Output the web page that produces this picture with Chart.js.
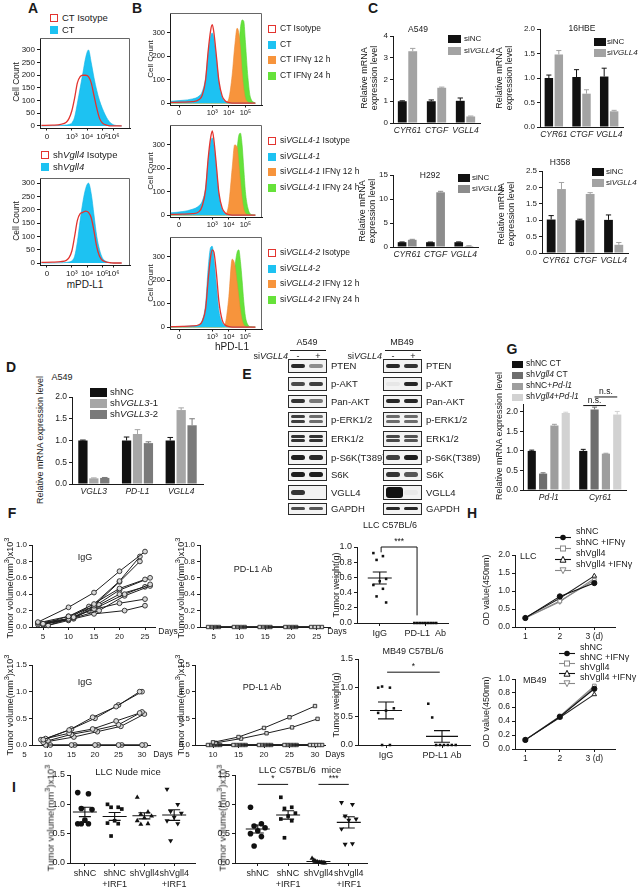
<!DOCTYPE html>
<html>
<head>
<meta charset="utf-8">
<title>VGLL4 / PD-L1 figure</title>
<script src="https://cdn.jsdelivr.net/npm/chart.js@4.4.1/dist/chart.umd.min.js"></script>
<style>
  body { margin: 0; background: #fff; }
  #fig { position: relative; width: 641px; height: 887px; overflow: hidden;
         font-family: 'Liberation Sans', Arial, sans-serif; color: #1a1a1a; }
  #fig canvas { position: absolute; }
  .tx { position: absolute; white-space: nowrap; line-height: 1.1; text-align: center; }
  .sw { position: absolute; box-sizing: border-box; }
  .blot { position: absolute; box-sizing: border-box; border: 1.5px solid #2a2a2a; background: #f3f3f3; overflow: hidden; }
  .band { position: absolute; border-radius: 3px; filter: blur(0.7px); }
</style>
</head>
<body>
<div id="fig"></div>
<script>
// ---------------- data ----------------

// A: flow histograms, x = position on the biexponential display axis
const binsA    = [0.8,1.6,2.2,2.6,2.8,3.0,3.2,3.4,3.6,3.8,4.0,4.2,4.4,4.6,4.8,5.0,5.2,5.4,5.6,5.8,6.0,6.2,6.6];
const ctA      = [0,1,2,4,6,12,35,90,150,210,270,300,250,190,140,100,70,45,25,12,5,2,0];
const ctIsoA   = [2,3,6,15,30,60,110,170,195,200,200,195,170,120,70,30,12,5,2,0,0,0,0];
const shA      = [0,0,1,2,4,8,25,80,160,230,280,300,260,180,100,50,20,8,3,1,0,0,0];
const shIsoA   = [2,3,5,10,20,45,100,160,185,190,195,190,170,120,60,25,10,5,2,1,0,0,0];
const tickPosA = [1.2, 3.0, 4.1, 5.2, 6.0];
const tickLabA = ['0', '10³', '10⁴', '10⁵', '10⁶'];
const cellTicksA = [0, 50, 100, 150, 200, 250, 300];

// B: flow histograms
const binsB = [0.5,1.2,1.8,2.2,2.4,2.6,2.75,2.9,3.0,3.1,3.25,3.4,3.6,3.8,4.0,4.2,4.35,4.5,4.6,4.7,4.8,4.9,5.0,5.15,5.3,5.6];
const ctB1  = [8,12,18,30,50,110,210,285,300,275,190,90,25,5,0,0,0,0,0,0,0,0,0,0,0,0];
const isoB1 = [3,4,6,15,35,100,220,310,335,300,200,95,30,8,2,0,0,0,0,0,0,0,0,0,0,0];
const h12B1 = [0,0,0,0,0,0,0,0,0,0,0,0,0,2,20,120,240,320,300,230,130,60,20,5,0,0];
const h24B1 = [0,0,0,0,0,0,0,0,0,0,0,0,0,0,3,20,60,150,240,320,355,350,260,110,25,0];
const ctB2  = [10,15,25,40,60,120,230,310,330,300,200,90,25,5,0,0,0,0,0,0,0,0,0,0,0,0];
const isoB2 = [3,4,6,15,40,110,240,330,360,320,210,95,30,8,2,0,0,0,0,0,0,0,0,0,0,0];
const h12B2 = [0,0,0,0,0,0,0,0,0,0,0,0,0,3,50,200,300,290,220,140,70,25,8,2,0,0];
const h24B2 = [0,0,0,0,0,0,0,0,0,0,0,0,0,0,10,60,150,280,340,350,300,200,100,30,5,0];
const ctB3  = [2,3,5,10,30,100,250,340,345,290,180,70,20,4,0,0,0,0,0,0,0,0,0,0,0,0];
const isoB3 = [2,3,5,10,25,80,200,300,330,320,230,110,30,8,2,0,0,0,0,0,0,0,0,0,0,0];
const h12B3 = [0,0,0,0,0,0,0,0,0,0,0,0,2,20,130,290,270,190,130,70,30,10,3,0,0,0];
const h24B3 = [0,0,0,0,0,0,0,0,0,0,0,0,0,5,40,150,250,320,330,280,200,110,45,10,2,0];
const tickPosB = [1.0, 3.0, 4.0, 5.0];
const tickLabB = ['0', '10³', '10⁴', '10⁵'];
const cellTicksB = [0, 100, 200, 300];

// C: qPCR, siNC vs siVGLL4
const cCats    = ['CYR61', 'CTGF', 'VGLL4'];
const a549Nc   = [1.0, 1.0, 1.02],  a549NcErr = [0.02, 0.06, 0.13];
const a549Si   = [3.3, 1.62, 0.3],  a549SiErr = [0.13, 0.03, 0.02];
const hbeNc    = [1.0, 1.02, 1.03], hbeNcErr  = [0.06, 0.15, 0.17];
const hbeSi    = [1.48, 0.68, 0.32], hbeSiErr = [0.08, 0.08, 0.02];
const h292Nc   = [1.0, 1.0, 1.0],   h292NcErr = [0.05, 0.03, 0.06];
const h292Si   = [1.5, 11.4, 0.2],  h292SiErr = [0.1, 0.2, 0.05];
const h358Nc   = [1.02, 1.0, 1.01], h358NcErr = [0.12, 0.03, 0.15];
const h358Si   = [1.95, 1.8, 0.25], h358SiErr = [0.2, 0.04, 0.07];

// D: shVGLL3
const dCats  = ['VGLL3', 'PD-L1', 'VGLL4'];
const dShNc  = [1.0, 1.0, 1.0],   dShNcErr = [0.01, 0.08, 0.07];
const dSh1   = [0.13, 1.15, 1.7], dSh1Err  = [0.01, 0.1, 0.05];
const dSh2   = [0.14, 0.94, 1.35], dSh2Err = [0.01, 0.03, 0.15];

// E: western blots (band intensity, lane - / +)
const blotRows   = ['PTEN', 'p-AKT', 'Pan-AKT', 'p-ERK1/2', 'ERK1/2', 'p-S6K(T389)', 'S6K', 'VGLL4', 'GAPDH'];
const blotA549   = [[0.9,0.45],[0.75,0.8],[0.85,0.55],[0.8,0.6],[0.85,0.85],[0.95,0.9],[0.95,0.95],[0.85,0.0],[0.75,0.7]];
const blotMB49   = [[0.9,0.85],[0.05,0.9],[0.9,0.9],[0.6,0.6],[0.75,0.7],[0.8,0.95],[0.85,0.7],[1.0,0.04],[0.9,0.9]];
const blotDouble = [false,false,false,true,true,false,false,false,false];

// G: qPCR in LLC
const gCats   = ['Pd-l1', 'Cyr61'];
const gShNcCt = [1.0, 1.0],   gShNcCtErr = [0.02, 0.04];
const gShVgCt = [0.42, 2.06], gShVgCtErr = [0.02, 0.06];
const gShNcPd = [1.65, 0.93], gShNcPdErr = [0.03, 0.01];
const gShVgPd = [1.97, 1.93], gShVgPdErr = [0.02, 0.08];

// F: tumour growth (days, volume x10^3 mm3) per mouse
const igTopDays = [[4,10,15,20,25],[5,10,15,20,24],[5,11,15,20,24],[4,10,14,20,25],[6,11,15,21,26],
                   [4,10,16,21,26],[5,11,16,20,25],[6,10,14,20,25],[5,11,15,21,25],[4,10,15,20,26]];
const igTopVol  = [[0.06,0.24,0.42,0.68,0.92],[0.04,0.13,0.28,0.56,0.86],[0.03,0.12,0.26,0.55,0.8],
                   [0.05,0.1,0.25,0.47,0.58],[0.02,0.12,0.22,0.4,0.52],[0.03,0.09,0.2,0.38,0.5],
                   [0.04,0.11,0.27,0.4,0.49],[0.02,0.08,0.2,0.29,0.34],[0.03,0.1,0.16,0.2,0.26],
                   [0.05,0.13,0.25,0.45,0.6]];
const pdTopDays = [[3.9,8.9,13.9,18.9,23.9],[4.6,9.6,14.6,19.6,24.6],[5.3,10.3,15.3,20.3,25.3],[6.0,11.0,16.0,21.0,26.0]];
const pdTopVol  = [[0,0,0,0,0],[0,0,0,0,0],[0,0,0,0,0],[0,0,0,0,0]];
const igBotDays = [[9,14.5,19.5,24.5,29.5],[9.5,15,20,25,30],[8.5,14.5,19.5,24.5,29.5],[10,15,20,25,30],
                   [9,15.5,20.5,25.5,30.5],[9.5,15,20,25,30],[10.5,15.7,20.7,25.7,30.7]];
const igBotVol  = [[0.1,0.28,0.52,0.72,1.0],[0.12,0.3,0.5,0.75,1.0],[0.1,0.22,0.3,0.45,0.6],
                   [0.08,0.2,0.28,0.38,0.62],[0.05,0.15,0.25,0.35,0.58],[0,0,0,0,0],[0,0,0,0,0]];
const pdBotDays = [[10,15,20,25,30],[10.5,15.5,20.5,25.5,30.5],[9,14,19,24,29],[9.6,14.6,19.6,24.6,29.6],
                   [10.2,15.2,20.2,25.2,30.2],[10.8,15.8,20.8,25.8,30.8],[11.4,16.4,21.4,26.4,31.4]];
const pdBotVol  = [[0.05,0.15,0.32,0.52,0.73],[0.04,0.12,0.22,0.33,0.49],[0,0,0,0,0],[0,0,0,0,0],
                   [0,0,0,0,0],[0,0,0,0,0],[0,0,0,0,0]];
const dayTicksTop = [5, 10, 15, 20, 25];
const dayTicksBot = [5, 10, 15, 20, 25, 30];

// F: tumour weights (g)
const llcWtIgG  = [0.92, 0.88, 0.83, 0.58, 0.55, 0.5, 0.45, 0.35, 0.27];
const llcWtPdl1 = [0, 0, 0, 0, 0, 0, 0, 0, 0];
const mbWtIgG   = [1.0, 1.0, 1.02, 0.64, 0.6, 0.56, 0, 0];
const mbWtPdl1  = [0.72, 0.48, 0, 0, 0, 0, 0, 0];

// H: OD450 growth curves
const hDays       = [1, 2, 3];
const llcShNc     = [0.25, 0.85, 1.22];
const llcShNcIfn  = [0.25, 0.72, 1.3];
const llcShVg     = [0.26, 0.8, 1.42];
const llcShVgIfn  = [0.25, 0.7, 1.35];
const mbShNc      = [0.13, 0.46, 0.86];
const mbShNcIfn   = [0.13, 0.47, 0.9];
const mbShVg      = [0.13, 0.45, 0.78];
const mbShVgIfn   = [0.13, 0.46, 0.88];

// I: tumour volumes
const iLabels      = [['shNC'], ['shNC', '+IRF1'], ['shVgll4'], ['shVgll4', '+IRF1']];
const nudeShNc     = [1.2, 1.18, 0.93, 0.91, 0.73, 0.67, 0.67, 0.67];
const nudeShNcIrf  = [1.0, 0.95, 0.95, 0.92, 0.72, 0.68, 0.67, 0.46];
const nudeShVg     = [1.12, 0.87, 0.83, 0.8, 0.77, 0.72, 0.67, 0.66];
const nudeShVgIrf  = [1.26, 1.0, 0.88, 0.85, 0.78, 0.72, 0.67, 0.38];
const c57ShNc      = [0.95, 0.67, 0.63, 0.6, 0.55, 0.5, 0.45, 0.29];
const c57ShNcIrf   = [1.12, 0.95, 0.93, 0.85, 0.8, 0.75, 0.72, 0.43];
const c57ShVg      = [0.08, 0.05, 0.03, 0.02, 0.01, 0.01, 0, 0];
const c57ShVgIrf   = [1.03, 1.0, 0.8, 0.75, 0.73, 0.58, 0.33, 0.32];

// ---------------- setup ----------------
const fig = document.getElementById('fig');
const FONT = "'Liberation Sans', Arial, sans-serif";
const AX = '#1a1a1a';
Chart.defaults.font.family = FONT;
Chart.defaults.font.size = 8.5;
Chart.defaults.color = AX;
Chart.defaults.animation = false;
Chart.defaults.events = [];
Chart.defaults.plugins.legend.display = false;
Chart.defaults.plugins.tooltip.enabled = false;

// error bars, mean +/- SEM, brackets, plot frame
Chart.register({
  id: 'marks',
  afterDatasetsDraw(chart) {
    const ctx = chart.ctx, xs = chart.scales.x, ys = chart.scales.y;
    ctx.save();
    chart.data.datasets.forEach((ds, i) => {
      const meta = chart.getDatasetMeta(i);
      if (ds.err) {
        ctx.strokeStyle = ds.backgroundColor; ctx.lineWidth = 1;
        meta.data.forEach((el, j) => {
          const top = ys.getPixelForValue(ds.data[j] + ds.err[j]);
          const cw = el.width * 0.3;
          ctx.beginPath();
          ctx.moveTo(el.x, el.y); ctx.lineTo(el.x, top);
          ctx.moveTo(el.x - cw, top); ctx.lineTo(el.x + cw, top);
          ctx.stroke();
        });
      }
      if (ds.summary) {
        const v = ds.data.map(p => p.y), n = v.length;
        const m = v.reduce((a, b) => a + b, 0) / n;
        const se = Math.sqrt(v.reduce((a, b) => a + (b - m) ** 2, 0) / (n - 1)) / Math.sqrt(n);
        const cx = xs.getPixelForValue(ds.gx);
        const ym = ys.getPixelForValue(m), y1 = ys.getPixelForValue(m - se), y2 = ys.getPixelForValue(m + se);
        const mw = ds.meanW, cw = ds.capW;
        ctx.strokeStyle = '#111'; ctx.lineWidth = 1.1;
        ctx.beginPath();
        ctx.moveTo(cx - mw, ym); ctx.lineTo(cx + mw, ym);
        ctx.moveTo(cx, y1); ctx.lineTo(cx, y2);
        ctx.moveTo(cx - cw, y1); ctx.lineTo(cx + cw, y1);
        ctx.moveTo(cx - cw, y2); ctx.lineTo(cx + cw, y2);
        ctx.stroke();
      }
    });
    (chart.data.brackets || []).forEach(b => {
      const px = s => Array.isArray(s) ? chart.getDatasetMeta(s[0]).data[s[1]].x : xs.getPixelForValue(s);
      const x1 = px(b.x1), x2 = px(b.x2), y = ys.getPixelForValue(b.y);
      ctx.strokeStyle = '#111'; ctx.lineWidth = 1;
      ctx.beginPath();
      ctx.moveTo(x1, y); ctx.lineTo(x2, y);
      if (b.d1 != null) { ctx.moveTo(x1, y); ctx.lineTo(x1, ys.getPixelForValue(b.d1)); }
      if (b.d2 != null) { ctx.moveTo(x2, y); ctx.lineTo(x2, ys.getPixelForValue(b.d2)); }
      ctx.stroke();
      ctx.fillStyle = '#111'; ctx.font = '8.5px ' + FONT;
      ctx.textAlign = 'center'; ctx.textBaseline = 'bottom';
      ctx.fillText(b.text, (x1 + x2) / 2, y - 1);
    });
    if (chart.data.frame) {
      const a = chart.chartArea;
      ctx.strokeStyle = '#666'; ctx.lineWidth = 1;
      ctx.beginPath();
      ctx.moveTo(a.left, a.top + 0.5); ctx.lineTo(a.right - 0.5, a.top + 0.5); ctx.lineTo(a.right - 0.5, a.bottom);
      ctx.stroke();
    }
    ctx.restore();
  }
});

// put a chart so that its plot area lands on [L, T, R, B] of the page
function place(area, yW, xH, config, padT = 5, padR = 8) {
  const [L, T, R, B] = area;
  const c = document.createElement('canvas');
  c.width = R - L + yW + padR;
  c.height = B - T + padT + xH;
  c.style.left = (L - yW) + 'px';
  c.style.top = (T - padT) + 'px';
  fig.appendChild(c);
  const o = config.options;
  o.responsive = false; o.maintainAspectRatio = false; o.devicePixelRatio = 1;
  o.layout = { padding: { top: padT, right: padR, left: 0, bottom: 0 } };
  o.scales.x.afterFit = s => { s.height = xH; s.paddingLeft = 0; s.paddingRight = 0; };
  o.scales.y.afterFit = s => { s.width = yW; s.paddingTop = 0; s.paddingBottom = 0; };
  return new Chart(c, config);
}

function lin(min, max, ticks, labels, o = {}) {
  return {
    type: 'linear', min, max,
    afterBuildTicks: s => { s.ticks = ticks.map(v => ({ value: v })); },
    ticks: { callback: (v, i) => labels[i], font: { size: o.size || 8.5 }, padding: o.pad != null ? o.pad : 2,
             color: AX, autoSkip: false, maxRotation: 0, minRotation: 0 },
    grid: { display: true, drawOnChartArea: false, drawTicks: true, tickLength: o.tl || 3, lineWidth: 1,
            color: c => (o.hideBelow != null && c.tick && c.tick.value < o.hideBelow) ? 'rgba(0,0,0,0)' : AX },
    border: { display: true, color: AX, width: 1 }
  };
}
function cat(o = {}) {
  return {
    type: 'category', offset: true,
    ticks: { font: { size: o.size || 9, style: o.style || 'normal' }, padding: 3, color: AX,
             autoSkip: false, maxRotation: 0, minRotation: 0 },
    grid: { display: false, drawTicks: false, tickLength: 0 },
    border: { display: true, color: AX, width: 1 }
  };
}
const fix1 = a => a.map(v => v.toFixed(1));
const pts = (xs, ys) => xs.map((x, i) => ({ x, y: ys[i] }));

// ---------------- html helpers ----------------
function txt(x, y, html, o = {}) {
  const d = document.createElement('div');
  d.className = 'tx';
  d.innerHTML = html;
  d.style.left = x + 'px'; d.style.top = y + 'px';
  d.style.fontSize = (o.size || 9) + 'px';
  if (o.bold) d.style.fontWeight = 'bold';
  const ax = o.align === 'left' ? '0' : o.align === 'right' ? '-100%' : '-50%';
  d.style.transform = o.rot ? 'translate(-50%,-50%) rotate(-90deg)' : 'translate(' + ax + ',-50%)';
  fig.appendChild(d);
  return d;
}
function sw(x, y, w, h, fill, stroke) {
  const d = document.createElement('div');
  d.className = 'sw';
  Object.assign(d.style, { left: x + 'px', top: y + 'px', width: w + 'px', height: h + 'px',
    background: fill || 'transparent', border: stroke ? '1.5px solid ' + stroke : 'none' });
  fig.appendChild(d);
}
function legend(x, tx, rows, items, w, h, size = 9) {
  items.forEach((it, i) => {
    sw(x, rows[i] - h / 2, w, h, it.fill, it.stroke);
    txt(tx, rows[i], it.label, { align: 'left', size });
  });
}
function lineKey(x, y, kind) {
  const gray = kind === 'sq' || kind === 'itri';
  const col = gray ? '#888' : '#111';
  const shape = {
    dot: '<circle cx="8" cy="4.5" r="2.8" fill="#111"/>',
    sq: '<rect x="5.5" y="2" width="5" height="5" fill="#fff" stroke="#888" stroke-width="1"/>',
    tri: '<polygon points="8,1.3 11,7.2 5,7.2" fill="#fff" stroke="#111" stroke-width="1"/>',
    itri: '<polygon points="8,7.7 11,1.8 5,1.8" fill="#fff" stroke="#888" stroke-width="1"/>'
  }[kind];
  const d = document.createElement('div');
  d.className = 'sw';
  Object.assign(d.style, { left: x + 'px', top: (y - 4.5) + 'px', width: '16px', height: '9px' });
  d.innerHTML = '<svg width="16" height="9"><line x1="0" y1="4.5" x2="16" y2="4.5" stroke="' + col +
    '" stroke-width="1.1"/>' + shape + '</svg>';
  fig.appendChild(d);
}

// ---------------- panel letters ----------------
[['A', 33, 9], ['B', 137, 9], ['C', 373, 9], ['D', 11, 368], ['E', 247, 375],
 ['F', 12, 514], ['G', 512, 350], ['H', 472, 514], ['I', 14, 788]]
  .forEach(([t, x, y]) => txt(x, y, t, { size: 14, bold: true }));

// ---------------- A ----------------
const HIST = {
  iso: { line: '#e3342f', fill: null, w: 1.3 },
  ct:  { line: '#12b4e6', fill: '#1dc2f2', w: 0.6 },
  h12: { line: '#ee8a34', fill: '#f7943c', w: 0.6 },
  h24: { line: '#52d22e', fill: '#66e23a', w: 0.6 }
};
function histDs(bins, counts, kind) {
  const c = HIST[kind];
  return { data: pts(bins, counts), borderColor: c.line, backgroundColor: c.fill || 'transparent',
           fill: c.fill ? 'origin' : false, borderWidth: c.w, pointRadius: 0,
           cubicInterpolationMode: 'monotone' };
}
function hist(area, yW, yr, xr, xPos, xLab, yTicks, sets, tsize) {
  return place(area, yW, 13, {
    type: 'line',
    data: { frame: true, datasets: sets },
    options: { scales: { x: lin(xr[0], xr[1], xPos, xLab, { size: tsize, pad: 1, tl: 2.5 }),
                         y: lin(yr[0], yr[1], yTicks, yTicks.map(String), { size: tsize }) } }
  });
}
hist([40, 38, 130, 128], 22, [-8, 347], [0.7, 7.2], tickPosA, tickLabA, cellTicksA,
     [histDs(binsA, ctIsoA, 'iso'), histDs(binsA, ctA, 'ct')], 8);
hist([40, 178, 130, 265], 22, [-7.5, 319], [0.7, 7.2], tickPosA, tickLabA, cellTicksA,
     [histDs(binsA, shIsoA, 'iso'), histDs(binsA, shA, 'ct')], 8);
txt(17, 82, 'Cell Count', { rot: true, size: 8.5 });
txt(17, 221, 'Cell Count', { rot: true, size: 8.5 });
txt(85, 284, 'mPD-L1', { size: 10 });
legend(50, 62, [18, 30], [{ stroke: HIST.iso.line, label: 'CT Isotype' }, { fill: HIST.ct.fill, label: 'CT' }], 8, 8, 9.5);
legend(41, 53, [155, 167], [{ stroke: HIST.iso.line, label: 'sh<i>Vgll4</i> Isotype' },
                            { fill: HIST.ct.fill, label: 'sh<i>Vgll4</i>' }], 8, 8, 9.5);

// ---------------- B ----------------
const bSets = [[isoB1, ctB1, h12B1, h24B1], [isoB2, ctB2, h12B2, h24B2], [isoB3, ctB3, h12B3, h24B3]];
const bTops = [13, 125, 237];
const bNames = ['CT', 'si<i>VGLL4-1</i>', 'si<i>VGLL4-2</i>'];
bSets.forEach((s, k) => {
  const T = bTops[k];
  hist([170, T, 262, T + 92], 20, [-8, 385], [0.45, 6.0], tickPosB, tickLabB, cellTicksB,
       [histDs(binsB, s[0], 'iso'), histDs(binsB, s[1], 'ct'), histDs(binsB, s[2], 'h12'), histDs(binsB, s[3], 'h24')], 7.5);
  txt(151, T + 46, 'Cell Count', { rot: true, size: 8 });
  const n = bNames[k];
  legend(268, 280, [T + 16, T + 32, T + 47, T + 63],
    [{ stroke: HIST.iso.line, label: n + ' Isotype' }, { fill: HIST.ct.fill, label: n },
     { fill: HIST.h12.fill, label: n + ' IFNγ 12 h' }, { fill: HIST.h24.fill, label: n + ' IFNγ 24 h' }], 8, 8, 8.5);
});
txt(232, 346, 'hPD-L1', { size: 10 });

// ---------------- C ----------------
const NC = '#111', SI = '#a3a3a3';
function bars(area, yW, cats, sets, yMax, yTicks, yLabs, catPct, barPct, brackets, padT, ySize) {
  return place(area, yW, 15, {
    type: 'bar',
    data: { labels: cats, brackets,
      datasets: sets.map(s => ({ data: s.v, err: s.e, backgroundColor: s.c, borderWidth: 0,
                                 categoryPercentage: catPct, barPercentage: barPct })) },
    options: { scales: { x: cat({ style: 'italic', size: 8.5 }), y: lin(0, yMax, yTicks, yLabs, { size: ySize || 8.5 }) } }
  }, padT || 5);
}
const ct0to4 = [0, 1, 2, 3, 4], t2 = [0, 0.5, 1, 1.5, 2], t25 = [0, 0.5, 1, 1.5, 2, 2.5];
bars([393, 36, 480, 123], 14, cCats, [{ v: a549Nc, e: a549NcErr, c: NC }, { v: a549Si, e: a549SiErr, c: SI }],
     4, ct0to4, ct0to4.map(String), 0.72, 0.85, null, 5, 8);
bars([540, 29, 623, 127], 18, cCats, [{ v: hbeNc, e: hbeNcErr, c: NC }, { v: hbeSi, e: hbeSiErr, c: SI }],
     2, t2, fix1(t2), 0.72, 0.85, null, 5, 8);
bars([393, 175, 478, 247], 16, cCats, [{ v: h292Nc, e: h292NcErr, c: NC }, { v: h292Si, e: h292SiErr, c: '#8c8c8c' }],
     15, [0, 5, 10, 15], ['0', '5', '10', '15'], 0.72, 0.85, null, 5, 8);
bars([542, 171, 628, 253], 18, cCats, [{ v: h358Nc, e: h358NcErr, c: NC }, { v: h358Si, e: h358SiErr, c: SI }],
     2.5, t25, fix1(t25), 0.72, 0.85, null, 5, 8);
const relTitle = 'Relative mRNA<br>expression level';
txt(370, 78, relTitle, { rot: true, size: 9 });
txt(505, 78, relTitle, { rot: true, size: 9 });
txt(368, 211, relTitle, { rot: true, size: 9 });
txt(507, 214, relTitle, { rot: true, size: 9 });
txt(418, 30, 'A549', { size: 8.5 });
txt(582, 29, '16HBE', { size: 8.5 });
txt(430, 176, 'H292', { size: 8.5 });
txt(560, 163, 'H358', { size: 8.5 });
const siLeg = c => [{ fill: NC, label: 'siNC' }, { fill: c, label: 'si<i>VGLL4</i>' }];
legend(448, 464, [39, 51], siLeg(SI), 13, 8, 8);
legend(594, 607, [42, 53], siLeg(SI), 12, 8, 8);
legend(458, 472, [178, 189], siLeg('#8c8c8c'), 12, 8, 8);
legend(592, 606, [172, 183], siLeg(SI), 12, 8, 8);

// ---------------- D ----------------
bars([72, 397, 203, 484], 18, dCats,
     [{ v: dShNc, e: dShNcErr, c: '#111' }, { v: dSh1, e: dSh1Err, c: '#a6a6a6' }, { v: dSh2, e: dSh2Err, c: '#7a7a7a' }],
     2, t2, fix1(t2), 0.75, 0.85);
txt(41, 440, 'Relative mRNA expression level', { rot: true, size: 9 });
txt(62, 378, 'A549', { size: 9 });
legend(90, 110, [392, 403, 414], [{ fill: '#111', label: 'shNC' }, { fill: '#a6a6a6', label: 'sh<i>VGLL3</i>-1' },
                                  { fill: '#7a7a7a', label: 'sh<i>VGLL3</i>-2' }], 17, 9, 9.5);

// ---------------- E ----------------
const blotRowTop = [359, 377, 395, 412, 431, 450, 468, 485, 503];
const blotRowH   = [14, 14, 13, 15, 16, 15, 13, 15, 12];
const blotThick  = [4, 4, 4, 3, 3, 5, 5, 5, 3.5];
function blot(x0, lanes) {
  blotRows.forEach((name, r) => {
    const box = document.createElement('div');
    box.className = 'blot';
    Object.assign(box.style, { left: x0 + 'px', top: blotRowTop[r] + 'px', width: '39px', height: blotRowH[r] + 'px' });
    const inner = blotRowH[r] - 3;
    lanes[r].forEach((a, k) => {
      if (a < 0.03) return;
      const fat = a > 0.97;
      const nb = blotDouble[r] ? 2 : 1;
      for (let b = 0; b < nb; b++) {
        const h = fat ? inner - 1 : blotThick[r];
        const cy = nb === 2 ? inner / 2 + (b ? 2.3 : -2.3) : inner / 2;
        const band = document.createElement('div');
        band.className = 'band';
        Object.assign(band.style, { left: (2 + k * 18) + 'px', width: (fat ? 17 : 14) + 'px',
          top: (cy - h / 2) + 'px', height: h + 'px', background: 'rgba(18,18,18,' + a + ')' });
        box.appendChild(band);
      }
    });
    fig.appendChild(box);
    txt(x0 + 43, blotRowTop[r] + blotRowH[r] / 2, name, { align: 'left', size: 9.5 });
  });
}
blot(288, blotA549);
blot(383, blotMB49);
txt(307, 343, 'A549', { size: 9 });
txt(402, 343, 'MB49', { size: 9 });
sw(290, 350, 36, 1, '#222');
sw(385, 350, 36, 1, '#222');
txt(288, 357, 'si<i>VGLL4</i>', { align: 'right', size: 9 });
txt(382, 357, 'si<i>VGLL4</i>', { align: 'right', size: 9 });
[[298, '-'], [318, '+'], [393, '-'], [413, '+']].forEach(([x, t]) => txt(x, 357, t, { size: 9 }));

// ---------------- G ----------------
bars([523, 404, 626, 490], 18, gCats,
     [{ v: gShNcCt, e: gShNcCtErr, c: '#111' }, { v: gShVgCt, e: gShVgCtErr, c: '#6e6e6e' },
      { v: gShNcPd, e: gShNcPdErr, c: '#9e9e9e' }, { v: gShVgPd, e: gShVgPdErr, c: '#d2d2d2' }],
     2.2, t2, fix1(t2), 0.88, 0.72,
     [{ x1: [0, 1], x2: [2, 1], y: 2.16, text: 'n.s.' }, { x1: [1, 1], x2: [3, 1], y: 2.38, text: 'n.s.' }], 16);
txt(500, 436, 'Relative mRNA expression level', { rot: true, size: 9 });
legend(512, 526, [364, 375, 386, 397],
  [{ fill: '#111', label: 'shNC CT' }, { fill: '#6e6e6e', label: 'sh<i>Vgll4</i> CT' },
   { fill: '#9e9e9e', label: 'shNC+<i>Pd-l1</i>' }, { fill: '#d2d2d2', label: 'sh<i>Vgll4</i>+<i>Pd-l1</i>' }], 11, 7, 8.5);

// ---------------- F ----------------
function mice(area, xr, xTicks, yr, yTicks, yLabs, daysArr, volArr, mk) {
  const sets = daysArr.map((d, i) => ({
    data: pts(d, volArr[i]), borderColor: '#1e1e1e', borderWidth: 1, tension: 0,
    pointStyle: mk, pointRadius: 2.4, pointBackgroundColor: '#d8d8d8', pointBorderColor: '#2a2a2a',
    pointBorderWidth: 0.9, clip: false
  }));
  return place(area, 20, 15, {
    type: 'line', data: { datasets: sets },
    options: { scales: { x: lin(xr[0], xr[1], xTicks, xTicks.map(String), { size: 8, hideBelow: xr[0] }),
                         y: lin(yr[0], yr[1], yTicks, yLabs, { size: 8 }) } }
  });
}
const t1 = [0, 0.2, 0.4, 0.6, 0.8, 1.0], t15 = [0, 0.5, 1.0, 1.5];
mice([32, 545, 155, 627], [2.84, 26.96], dayTicksTop, [0, 1], t1, fix1(t1), igTopDays, igTopVol, 'circle');
mice([200, 545, 330, 627], [2.33, 27.57], dayTicksTop, [0, 1], t1, fix1(t1), pdTopDays, pdTopVol, 'rect');
mice([32, 665, 150, 745], [6.6, 31.7], dayTicksBot, [0, 1.5], t15, fix1(t15), igBotDays, igBotVol, 'circle');
mice([195, 665, 325, 745], [6.47, 31.96], dayTicksBot, [0, 1.5], t15, fix1(t15), pdBotDays, pdBotVol, 'rect');
const volTitle = 'Tumor volume(mm<sup>3</sup>)x10<sup>3</sup>';
txt(9, 588, volTitle, { rot: true, size: 9 });
txt(180, 588, volTitle, { rot: true, size: 9 });
txt(9, 705, volTitle, { rot: true, size: 9 });
txt(180, 705, volTitle, { rot: true, size: 9 });
txt(168, 632, 'Days', { size: 8.5 });
txt(337, 632, 'Days', { size: 8.5 });
txt(163, 755, 'Days', { size: 8.5 });
txt(335, 755, 'Days', { size: 8.5 });
txt(85, 558, 'IgG', { size: 9 });
txt(253, 570, 'PD-L1 Ab', { size: 9 });
txt(85, 683, 'IgG', { size: 9 });
txt(262, 688, 'PD-L1 Ab', { size: 9 });

// scatter + mean/SEM
function spread(g, vals, w, row) {
  const n = vals.length;
  return vals.map((v, i) => ({ x: row ? g + (i - (n - 1) / 2) * w : g + (((i * 3) % 5) - 2) * w, y: v }));
}
function group(g, vals, w, row, style, meanW, capW, opt = {}) {
  return { type: 'scatter', data: spread(g, vals, w, row), gx: g, summary: true, meanW, capW,
           pointStyle: style, pointRadius: opt.r || 2.6, pointRotation: opt.rot || 0,
           pointBackgroundColor: '#111', pointBorderColor: '#111', pointBorderWidth: 0, clip: false };
}
function dots(area, xH, xr, xTicks, xLabs, yr, yTicks, yLabs, sets, brackets, padT, xSize) {
  return place(area, 20, xH, {
    type: 'scatter', data: { datasets: sets, brackets },
    options: { scales: { x: lin(xr[0], xr[1], xTicks, xLabs, { size: xSize || 9 }),
                         y: lin(yr[0], yr[1], yTicks, yLabs, { size: xSize || 9 }) } }
  }, padT || 5);
}
dots([357, 547, 448, 623], 15, [0.5, 2.5], [1, 2], ['IgG', 'PD-L1  Ab'], [0, 1], t1, fix1(t1),
     [group(1, llcWtIgG, 0.07, false, 'rect', 12, 7, { r: 1.8 }), group(2, llcWtPdl1, 0.06, true, 'rect', 12, 7, { r: 1.8 })],
     [{ x1: 1.03, x2: 1.82, y: 1.0, d1: 0.93, d2: 0.1, text: '***' }], 14, 9);
dots([358, 659, 470, 745], 15, [0.5, 2.5], [1, 2], ['IgG', 'PD-L1 Ab'], [0, 1.5], t15, fix1(t15),
     [group(1, mbWtIgG, 0.07, false, 'rect', 16, 8, { r: 1.8 }), group(2, mbWtPdl1, 0.07, true, 'rect', 16, 8, { r: 1.8 })],
     [{ x1: 1.02, x2: 1.96, y: 1.27, text: '*' }], 8, 9);
txt(337, 585, 'Tumor weight(g)', { rot: true, size: 9 });
txt(337, 705, 'Tumor weight(g)', { rot: true, size: 9 });
txt(390, 526, 'LLC C57BL/6', { size: 9 });
txt(413, 652, 'MB49 C57BL/6', { size: 9 });

// ---------------- H ----------------
function od(area, yr, yTicks, yLabs, sets) {
  return place(area, 20, 15, {
    type: 'line', data: { datasets: sets.map(s => ({
      data: pts(hDays, s.v), borderColor: s.c, borderWidth: 1.1, tension: 0, pointStyle: s.mk,
      pointRotation: s.rot || 0, pointRadius: 2.6, pointBackgroundColor: s.fill, pointBorderColor: s.c,
      pointBorderWidth: 1, clip: false })) },
    options: { scales: { x: lin(0.7, 3.6, [1, 2, 3], ['1', '2', '3 (d)'], { size: 8.5 }),
                         y: lin(yr[0], yr[1], yTicks, yLabs, { size: 8.5 }) } }
  });
}
const hStyle = v => [
  { v: v[0], c: '#111', mk: 'circle', fill: '#111' },
  { v: v[1], c: '#888', mk: 'rect', fill: '#fff' },
  { v: v[2], c: '#222', mk: 'triangle', fill: '#fff' },
  { v: v[3], c: '#888', mk: 'triangle', fill: '#fff', rot: 180 }
];
od([515, 555, 615, 627], [0, 2], t2, fix1(t2), hStyle([llcShNc, llcShNcIfn, llcShVg, llcShVgIfn]));
od([515, 679, 615, 749], [0, 1], t1, fix1(t1), hStyle([mbShNc, mbShNcIfn, mbShVg, mbShVgIfn]));
txt(487, 590, 'OD value(450nm)', { rot: true, size: 9 });
txt(487, 712, 'OD value(450nm)', { rot: true, size: 9 });
txt(520, 557, 'LLC', { align: 'left', size: 9 });
txt(523, 681, 'MB49', { align: 'left', size: 9 });
const hLeg = ['shNC', 'shNC +IFNγ', 'shVgll4', 'shVgll4 +IFNγ'], hKeys = ['dot', 'sq', 'tri', 'itri'];
[[555, 576, [532, 543, 554, 565]], [559, 580, [648, 658, 668, 678]]].forEach(([kx, tx, rows]) => {
  rows.forEach((y, i) => { lineKey(kx, y, hKeys[i]); txt(tx, y, hLeg[i], { align: 'left', size: 9 }); });
});

// ---------------- I ----------------
const tI = [0, 0.5, 1.0, 1.5];
dots([70, 775, 195, 863], 28, [0.5, 4.7], [1, 2, 3, 4], iLabels, [0, 1.5], tI, fix1(tI),
     [group(1, nudeShNc, 0.12, false, 'circle', 12, 6, { r: 2.8 }),
      group(2, nudeShNcIrf, 0.12, false, 'rect', 12, 6, { r: 2.6 }),
      group(3, nudeShVg, 0.12, false, 'triangle', 12, 6, { r: 2.9 }),
      group(4, nudeShVgIrf, 0.12, false, 'triangle', 12, 6, { r: 2.9, rot: 180 })], [], 5, 9);
dots([235, 775, 367, 863], 28, [0.25, 4.6], [1, 2, 3, 4], iLabels, [0, 1.5], tI, fix1(tI),
     [group(1, c57ShNc, 0.12, false, 'circle', 12, 6, { r: 2.8 }),
      group(2, c57ShNcIrf, 0.12, false, 'rect', 12, 6, { r: 2.6 }),
      group(3, c57ShVg, 0.06, true, 'triangle', 12, 6, { r: 2.9 }),
      group(4, c57ShVgIrf, 0.12, false, 'triangle', 12, 6, { r: 2.9, rot: 180 })],
     [{ x1: 1, x2: 2, y: 1.34, text: '*' }, { x1: 3, x2: 4, y: 1.34, text: '***' }], 5, 9);
txt(50, 818, volTitle, { rot: true, size: 9.5 });
txt(222, 818, volTitle, { rot: true, size: 9.5 });
txt(128, 772, 'LLC Nude mice', { size: 9.5 });
txt(300, 770, 'LLC C57BL/6&nbsp; mice', { size: 9.5 });
</script>
</body>
</html>
